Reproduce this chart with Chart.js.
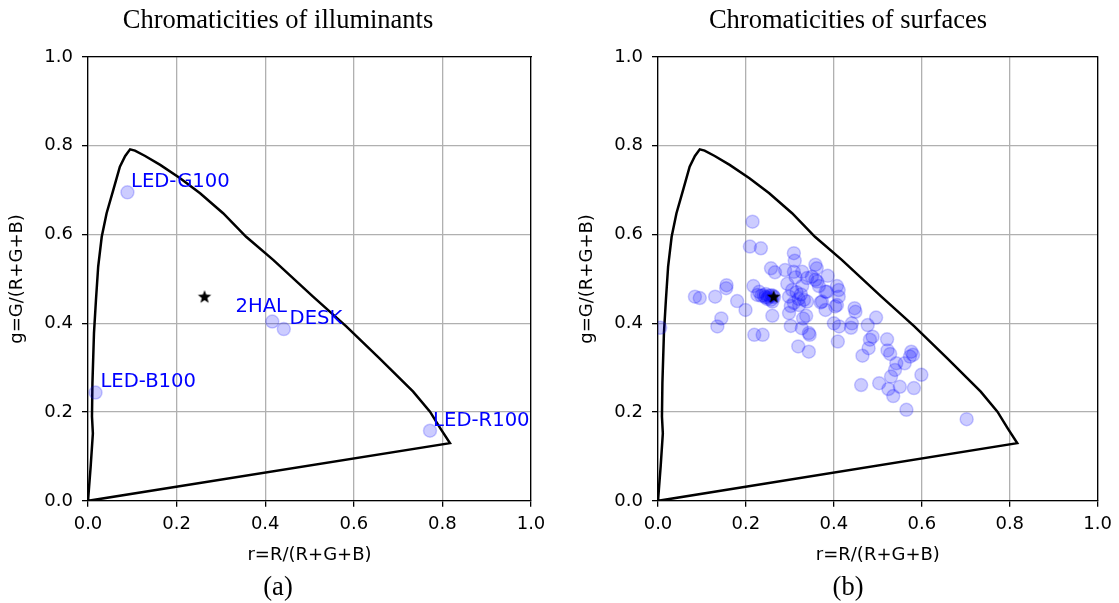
<!DOCTYPE html>
<html>
<head>
<meta charset="utf-8">
<script src="https://cdn.jsdelivr.net/npm/chart.js@4.4.1/dist/chart.umd.min.js"></script>
<style>
html,body{margin:0;padding:0;background:#fff;width:1119px;height:603px;overflow:hidden}
#wa{position:absolute;left:0;top:0;width:556px;height:603px}
#wb{position:absolute;left:577px;top:0;width:542px;height:603px}
</style>
</head>
<body>
<div id="wa"><canvas id="chartA" width="556" height="603"></canvas></div>
<div id="wb"><canvas id="chartB" width="542" height="603"></canvas></div>
<script>
// spectrum locus (r, g), closed by the purple line back to the origin
const locusR = [0, 0.006, 0.011, 0.009, 0.010, 0.0135, 0.018, 0.023, 0.031, 0.042, 0.057, 0.072, 0.084, 0.095, 0.106, 0.129, 0.163, 0.208, 0.253, 0.305, 0.357, 0.418, 0.508, 0.583, 0.658, 0.734, 0.772, 0.795, 0.817, 0];
const locusG = [0, 0.077, 0.152, 0.190, 0.265, 0.378, 0.453, 0.528, 0.595, 0.648, 0.700, 0.753, 0.777, 0.792, 0.789, 0.777, 0.757, 0.727, 0.693, 0.648, 0.595, 0.543, 0.460, 0.393, 0.321, 0.246, 0.201, 0.164, 0.130, 0];

// white point
const starR = [0.263];
const starG = [0.459];

// illuminants
const illumNames = ["LED-G100", "LED-B100", "2HAL", "DESK", "LED-R100"];
const illumR = [0.089, 0.017, 0.416, 0.442, 0.772];
const illumG = [0.695, 0.244, 0.404, 0.387, 0.158];
// where each name is written (left, baseline)
const labelR = [0.097, 0.028, 0.333, 0.455, 0.779];
const labelG = [0.708, 0.256, 0.425, 0.399, 0.169];

// surfaces
const surfR = [0.215,0.209,0.234,0.309,0.311,0.257,0.266,0.289,0.309,0.328,0.358,0.361,0.386,0.339,0.358,0.313,0.294,0.328,0.366,0.407,
  0.381,0.411,0.411,0.156,0.155,0.217,0.230,0.235,0.244,0.253,0.264,0.248,0.226,0.257,0.084,0.095,0.130,0.180,0.199,0.260,
  0.298,0.309,0.321,0.302,0.332,0.339,0.370,0.381,0.407,0.447,0.449,0.298,0.337,0.330,0.260,0.144,0.135,0.302,0.327,0.400,
  0.412,0.439,0.441,0.477,0.496,0.343,0.345,0.219,0.238,0.319,0.343,0.409,0.488,0.482,0.479,0.465,0.521,0.522,0.528,0.542,
  0.539,0.561,0.576,0.580,0.599,0.530,0.462,0.503,0.524,0.550,0.535,0.582,0.565,0.702,0.005,0.350,0.362,0.384,0.373,0.403,
  0.573,0.240,0.250,0.258,0.245,0.262,0.315,0.320,0.305,0.325];
const surfG = [0.629,0.573,0.569,0.558,0.541,0.524,0.515,0.520,0.516,0.516,0.532,0.524,0.507,0.502,0.498,0.504,0.489,0.484,0.484,0.484,
  0.471,0.475,0.460,0.486,0.479,0.484,0.471,0.462,0.459,0.462,0.459,0.455,0.464,0.453,0.460,0.457,0.460,0.450,0.430,0.449,
  0.460,0.446,0.441,0.439,0.453,0.449,0.447,0.430,0.441,0.434,0.426,0.423,0.417,0.411,0.417,0.411,0.393,0.394,0.389,0.400,
  0.393,0.390,0.400,0.396,0.413,0.378,0.374,0.374,0.374,0.348,0.336,0.359,0.370,0.363,0.344,0.327,0.364,0.339,0.331,0.310,
  0.295,0.310,0.336,0.329,0.284,0.280,0.261,0.265,0.252,0.257,0.236,0.254,0.205,0.184,0.390,0.505,0.494,0.471,0.449,0.438,
  0.325,0.463,0.458,0.463,0.466,0.462,0.470,0.455,0.475,0.465];

const ticks = [0, 0.2, 0.4, 0.6, 0.8, 1.0];

function pts(xs, ys){ return xs.map((v,i)=>({x:v, y:ys[i]})); }

function makeStar(r){
  const c=document.createElement("canvas");
  const s=Math.ceil(r*2+2); c.width=s; c.height=s;
  const g=c.getContext("2d");
  g.fillStyle="#000"; g.beginPath();
  for(let i=0;i<10;i++){
    const a=-Math.PI/2+i*Math.PI/5, rr=(i%2)?r*0.42:r;
    g.lineTo(s/2+rr*Math.cos(a), s/2+rr*Math.sin(a));
  }
  g.closePath(); g.fill();
  return c;
}
const starImg = makeStar(7);

const SANS = "'DejaVu Sans', sans-serif";
const SERIF = "'Liberation Serif', 'Times New Roman', serif";
const BLUE = "rgba(0,0,255,0.2)";

function axis(pos, text, fit, titlePad){
  const horiz = pos==="bottom";
  return {
    type:"linear", position:pos, min:0, max:1,
    afterBuildTicks: s => { s.ticks = ticks.map(v=>({value:v})); },
    ticks:{ callback:v=>v.toFixed(1), font:{family:SANS, size:18}, color:"#000", padding: horiz?7:9 },
    grid:{ color:"#b0b0b0", lineWidth:1.3, tickColor:"#000", tickLength:6, tickWidth:1.3 },
    border:{ color:"#000", width:1.3 },
    title:{ display:true, text:text, font:{family:SANS, size:18}, color:"#000",
      padding: horiz ? {top:0,bottom:0} : {top:titlePad,bottom:0} },
    afterFit: s => { if(horiz) s.height=fit; else s.width=fit; }
  };
}
function spine(pos, fit){
  return {
    type:"linear", position:pos, min:0, max:1, display:true,
    ticks:{display:false}, grid:{display:false},
    border:{ display:true, color:"#000", width:1.3 },
    afterFit: s => { if(pos==="top") s.height=fit; else s.width=fit; }
  };
}

const namesPlugin = {
  id:"names",
  afterDatasetsDraw(chart, args, opts){
    if(!opts.names) return;
    const {ctx, scales:{x, y}} = chart;
    ctx.save();
    ctx.font = "19.6px " + SANS;
    ctx.fillStyle = "#0000ff";
    ctx.textAlign = "left"; ctx.textBaseline = "alphabetic";
    opts.names.forEach((n,i)=>{
      ctx.fillText(n, x.getPixelForValue(opts.r[i]), y.getPixelForValue(opts.g[i]));
    });
    ctx.restore();
  }
};

function build(id, title, sub, yW, yPad, rightW, marks, names){
  const datasets = [
    { data: pts(starR, starG), pointStyle: starImg, pointRadius: 7, order: 0 },
    { data: marks, pointRadius: 6.5, backgroundColor: BLUE, borderColor: BLUE, borderWidth: 1.5, clip: 0, order: 1 },
    { data: pts(locusR, locusG), showLine: true, borderColor: "#000", borderWidth: 2.5, pointRadius: 0, tension: 0, fill: false, order: 2 }
  ];
  return new Chart(document.getElementById(id), {
    type: "scatter",
    data: { datasets },
    plugins: [namesPlugin],
    options: {
      responsive: false, animation: false, devicePixelRatio: 1,
      layout: { padding: 0 },
      plugins: {
        legend: { display: false }, tooltip: { enabled: false },
        title: { display: true, text: title, color: "#000",
          font: { family: SERIF, size: 26.5, weight: "normal", lineHeight: 1.2 },
          padding: { top: 5, bottom: 20.2 } },
        subtitle: { display: true, position: "bottom", text: sub, color: "#000",
          font: { family: SERIF, size: 26.5, weight: "normal", lineHeight: 1.1 },
          padding: { top: 8, bottom: 0 } },
        names: names || {}
      },
      scales: {
        x: axis("bottom", "r=R/(R+G+B)", 65),
        y: axis("left", "g=G/(R+G+B)", yW, yPad),
        x2: spine("top", 0),
        y2: spine("right", rightW)
      }
    }
  });
}

build("chartA", "Chromaticities of illuminants", "(a)", 88, 7, 25,
  pts(illumR, illumG), { names: illumNames, r: labelR, g: labelG });
build("chartB", "Chromaticities of surfaces", "(b)", 81, 0, 18,
  pts(surfR, surfG), null);
</script>
</body>
</html>
